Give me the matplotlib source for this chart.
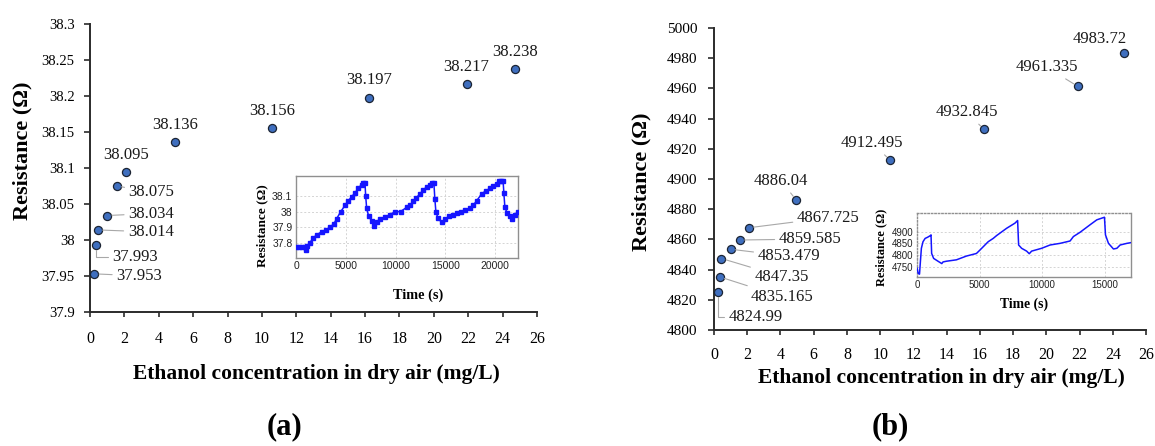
import matplotlib
matplotlib.use("Agg")
import matplotlib.pyplot as plt

# ---- data -------------------------------------------------------------
conc = [0.25, 0.35, 0.45, 1.0, 1.55, 2.1, 4.95, 10.6, 16.25, 21.9, 24.7]
res_a = [37.953, 37.993, 38.014, 38.034, 38.075, 38.095, 38.136, 38.156,
         38.197, 38.217, 38.238]
res_b = [4824.99, 4835.165, 4847.35, 4853.479, 4859.585, 4867.725, 4886.04,
         4912.495, 4932.845, 4961.335, 4983.72]

x_ticks = list(range(0, 27, 2))
yticks_a = [37.9, 37.95, 38.0, 38.05, 38.1, 38.15, 38.2, 38.25, 38.3]
ytick_labels_a = ["37.9", "37.95", "38", "38.05", "38.1", "38.15", "38.2", "38.25", "38.3"]
yticks_b = list(range(4800, 5001, 20))

# transient response, sensor (a)
time_a = [0, 300, 600, 900, 1000, 1100, 1400, 1740, 2100, 2580, 3000, 3420,
          3800, 4090, 4500, 4920, 5250, 5590, 5900, 6260, 6590, 6750, 6930,
          7000, 7100, 7300, 7600, 7840, 8100, 8440, 8900, 9440, 9950, 10500,
          11180, 11500, 11790, 12100, 12460, 12800, 13130, 13470, 13650, 13850,
          13950, 14050, 14250, 14630, 15000, 15400, 15800, 16140, 16600, 17000,
          17480, 17800, 18150, 18650, 19100, 19490, 19800, 20160, 20350, 20600,
          20800, 20880, 20980, 21200, 21500, 21720, 22000, 22300]
r_a = [37.77, 37.77, 37.77, 37.77, 37.75, 37.78, 37.80, 37.83, 37.85, 37.87,
       37.88, 37.90, 37.92, 37.955, 38.00, 38.04, 38.07, 38.095, 38.12, 38.15,
       38.175, 38.185, 38.185, 38.10, 38.02, 37.97, 37.94, 37.91, 37.935, 37.95,
       37.965, 37.98, 38.00, 38.00, 38.03, 38.04, 38.07, 38.09, 38.115, 38.14,
       38.16, 38.175, 38.185, 38.185, 38.08, 38.00, 37.96, 37.93, 37.95, 37.97,
       37.98, 37.99, 38.00, 38.01, 38.02, 38.04, 38.07, 38.115, 38.135, 38.15,
       38.165, 38.18, 38.20, 38.20, 38.20, 38.12, 38.03, 37.99, 37.97, 37.95,
       37.98, 38.00]

# transient response, sensor (b)
time_b = [0, 100, 200, 270, 350, 480, 650, 850, 1070, 1120, 1170, 1330, 1680,
          1980, 2080, 2350, 3150, 3950, 4750, 5020, 5690, 6090, 6360, 7160,
          7830, 8040, 8120, 8360, 8760, 8970, 9160, 9960, 10630, 11430, 12230,
          12500, 13030, 13830, 14370, 14980, 15060, 15300, 15700, 15970, 16230,
          16770, 17090]
r_b = [4745, 4722, 4719, 4771, 4829, 4857, 4871, 4876, 4883, 4886, 4807, 4786,
       4774, 4764, 4771, 4774, 4780, 4796, 4807, 4821, 4857, 4871, 4883, 4914,
       4936, 4947, 4843, 4829, 4817, 4806, 4817, 4829, 4843, 4850, 4860, 4879,
       4897, 4929, 4950, 4961, 4886, 4850, 4826, 4829, 4843, 4850, 4853]

# ---- style ------------------------------------------------------------
SERIF = ["Liberation Serif", "DejaVu Serif"]
SANS = ["Liberation Sans", "DejaVu Sans"]
plt.rcParams["font.family"] = SERIF
plt.rcParams["mathtext.fontset"] = "stix"

W, H = 1155, 446
fig = plt.figure(figsize=(W / 100, H / 100), dpi=100)
fig.patch.set_facecolor("white")


def box(x0, y0, x1, y1):
    """Pixel box (left, top, right, bottom) -> figure fraction rect."""
    return [x0 / W, 1 - y1 / H, (x1 - x0) / W, (y1 - y0) / H]


POINT_FC = "#3f6fbf"
POINT_EC = "#1b2433"
LEADER = "#a8a8a8"
CURVE = "#1515ff"


def main_axes(rect, ylim, yticks, ylabels, ytick_size, xtick_size, xpad, ypad):
    ax = fig.add_axes(rect)
    ax.set_xlim(0, 26)
    ax.set_ylim(*ylim)
    for s in ("top", "right"):
        ax.spines[s].set_visible(False)
    for s in ("left", "bottom"):
        ax.spines[s].set_color("#2b2b2b")
        ax.spines[s].set_linewidth(1.4)
    ax.set_xticks(x_ticks)
    ax.set_xticklabels([str(t) for t in x_ticks], fontsize=xtick_size)
    ax.set_yticks(yticks)
    ax.set_yticklabels(ylabels, fontsize=ytick_size)
    ax.tick_params(axis="x", direction="out", length=3.5, width=1.2,
                   color="#2b2b2b", pad=xpad)
    ax.tick_params(axis="y", direction="out", length=4, width=1.2,
                   color="#2b2b2b", pad=ypad)
    return ax


def label_points(ax, xs, ys, texts, layout, size):
    for x, y, t, (dx, dy, ha, kind) in zip(xs, ys, texts, layout):
        kw = dict(xy=(x, y), xytext=(dx, dy), textcoords="offset pixels",
                  ha=ha, va="center", fontsize=size, color="#1a1a1a", zorder=4)
        if kind == "line":
            kw["arrowprops"] = dict(arrowstyle="-", color=LEADER, lw=0.8,
                                    shrinkA=1, shrinkB=3.5)
        elif kind == "elbow":
            kw["arrowprops"] = dict(arrowstyle="-", color=LEADER, lw=0.8,
                                    shrinkA=1, shrinkB=3.5, relpos=(0, 0.5),
                                    connectionstyle="angle,angleA=0,angleB=90,rad=0")
        ax.annotate(t, **kw)


def inset(rect, t, r, xlim, ylim, xticks, yticks, ylabs, markers, dotted_top,
          tick_size, ylab_pos, xlab_pos, lab_size):
    ax = fig.add_axes(rect)
    ax.set_facecolor("white")
    ax.set_zorder(5)
    ax.plot(t, r, color=CURVE, lw=1.1, marker="s" if markers else None,
            ms=2.2, zorder=3)
    ax.set_xlim(*xlim)
    ax.set_ylim(*ylim)
    ax.set_xticks(xticks)
    ax.set_yticks(yticks)
    ax.set_xticklabels([str(v) for v in xticks], fontsize=tick_size, family=SANS)
    ax.set_yticklabels(ylabs, fontsize=tick_size, family=SANS)
    ax.tick_params(length=0, pad=2.5, colors="#222222")
    ax.grid(True, color="#d4d4d4", lw=0.7, ls=(0, (2, 2)))
    for s in ax.spines.values():
        s.set_color("#8f8f8f")
        s.set_linewidth(1.0)
    if dotted_top:
        ax.spines["top"].set_linestyle((0, (1, 1.5)))
        ax.spines["left"].set_linestyle((0, (1, 1.5)))
    ax.text(ylab_pos[0], ylab_pos[1], "Resistance (\u03a9)", transform=ax.transAxes,
            rotation=90, ha="center", va="center", fontsize=lab_size, fontweight="bold")
    ax.text(xlab_pos[0], xlab_pos[1], "Time (s)", transform=ax.transAxes,
            ha="center", va="center", fontsize=lab_size + 0.8, fontweight="bold")
    return ax


# ---- panel (a) --------------------------------------------------------
ax_a = main_axes(box(90, 24, 537, 312), (37.9, 38.3), yticks_a, ytick_labels_a,
                 10.5, 11.5, 10, 7)
ax_a.scatter(conc, res_a, s=34, color=POINT_FC, edgecolor=POINT_EC,
             linewidth=0.9, zorder=3, clip_on=False)
layout_a = [(22, -2, "left", "line"), (16, -12, "left", "elbow"),
            (30, -2, "left", "line"), (21, 2, "left", "line"),
            (12, -6, "left", "line"), (0, 17, "center", None),
            (0, 17, "center", None), (0, 17, "center", None),
            (0, 18, "center", None), (0, 17, "center", None),
            (0, 17, "center", None)]
label_points(ax_a, conc, res_a, [str(v) for v in res_a], layout_a, 12)

inset(box(296, 176, 518, 258), time_a, r_a, (0, 22300), (37.70, 38.23),
      [0, 5000, 10000, 15000, 20000], [37.8, 37.9, 38.0, 38.1],
      ["37.8", "37.9", "38", "38.1"], True, False, 7.5,
      (-0.15, 0.40), (0.55, -0.45), 9.5)

fig.text(22 / W, 1 - 151 / H, "Resistance (\u03a9)", rotation=90, ha="center",
         va="center", fontsize=16, fontweight="bold")
fig.text(316 / W, 1 - 374 / H, "Ethanol concentration in dry air (mg/L)",
         ha="center", va="center", fontsize=15.5, fontweight="bold")
fig.text(284 / W, 1 - 427 / H, "(a)", ha="center", va="center", fontsize=22,
         fontweight="bold")

# ---- panel (b) --------------------------------------------------------
ax_b = main_axes(box(714, 28, 1146, 330), (4800, 5000), yticks_b,
                 [str(v) for v in yticks_b], 11, 11.5, 9, 8)
ax_b.scatter(conc, res_b, s=34, color=POINT_FC, edgecolor=POINT_EC,
             linewidth=0.9, zorder=3, clip_on=False)
layout_b = [(10, -25, "left", "elbow"), (31, -20, "left", "line"),
            (33, -18, "left", "line"), (27, -7, "left", "line"),
            (39, 1, "left", "line"), (48, 10, "left", "line"),
            (-15, 19, "center", "line"), (-18, 17, "center", "line"),
            (-17, 17, "center", "line"), (-31, 19, "center", "line"),
            (-25, 14, "center", None)]
label_points(ax_b, conc, res_b, [str(v) for v in res_b], layout_b, 12)

inset(box(917, 213, 1131, 277), time_b, r_b, (0, 17100), (4707, 4979),
      [0, 5000, 10000, 15000], [4750, 4800, 4850, 4900],
      ["4750", "4800", "4850", "4900"], False, True, 7,
      (-0.165, 0.47), (0.5, -0.43), 9)

fig.text(641 / W, 1 - 182 / H, "Resistance (\u03a9)", rotation=90, ha="center",
         va="center", fontsize=16, fontweight="bold")
fig.text(941 / W, 1 - 378 / H, "Ethanol concentration in dry air (mg/L)",
         ha="center", va="center", fontsize=15.5, fontweight="bold")
fig.text(890 / W, 1 - 427 / H, "(b)", ha="center", va="center", fontsize=22,
         fontweight="bold")

fig.savefig("out.png", dpi=100, facecolor="white")
